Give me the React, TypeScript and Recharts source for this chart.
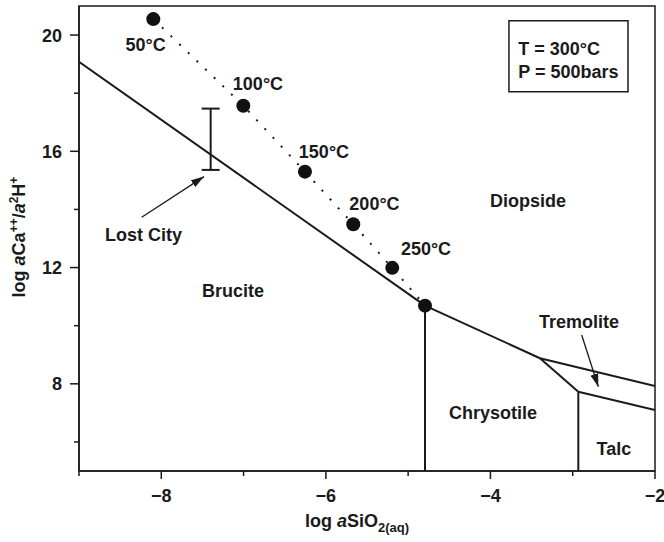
import { ComposedChart, Line, Scatter, XAxis, YAxis, ReferenceArea, ErrorBar } from 'recharts';

// phase boundaries: x = log aSiO2(aq), y = log aCa++/a2H+
const bruciteDiopside = [{ x: -9, y: 19.08 }, { x: -4.795, y: 10.69 }];
const chrysotileDiopside = [{ x: -4.795, y: 10.69 }, { x: -3.398, y: 8.88 }];
const tremoliteDiopside = [{ x: -3.398, y: 8.88 }, { x: -2, y: 7.92 }];
const chrysotileTremolite = [{ x: -3.398, y: 8.88 }, { x: -2.932, y: 7.73 }];
const talcTremolite = [{ x: -2.932, y: 7.73 }, { x: -2, y: 7.1 }];
const bruciteChrysotile = [{ x: -4.795, y: 10.69 }, { x: -4.795, y: 5 }];
const chrysotileTalc = [{ x: -2.932, y: 7.73 }, { x: -2.932, y: 5 }];

// fluid composition vs temperature
const temps = ['50°C', '100°C', '150°C', '200°C', '250°C', '300°C'];
const tempSiO2 = [-8.097, -7.003, -6.254, -5.667, -5.193, -4.795];
const tempCa = [20.55, 17.57, 15.3, 13.49, 11.99, 10.69];

// Lost City range
const lostCitySiO2 = -7.4;
const lostCityCa = [15.36, 17.47];

// annotation anchors
const tempLabelSiO2 = [-8.19, -6.825, -6.023, -5.409, -4.783];
const tempLabelCa = [19.68, 18.34, 15.99, 14.21, 12.66];
const phaseNames = ['Brucite', 'Diopside', 'Chrysotile', 'Talc', 'Tremolite', 'Lost City'];
const phaseSiO2 = [-7.129, -3.544, -3.969, -2.499, -2.924, -8.216];
const phaseCa = [11.2, 14.32, 7.0, 5.78, 10.14, 13.14];
const lostCityArrow = [{ x: -8.238, y: 13.73 }, { x: -7.481, y: 15.13 }];
const tremoliteArrow = [{ x: -2.891, y: 9.68 }, { x: -2.689, y: 7.9 }];
const boxSiO2 = [-3.775, -2.328];
const boxCa = [18.05, 20.49];
const boxLines = ['T = 300°C', 'P = 500bars'];
const boxLineCa = [19.54, 18.74];

const xTicks = [-9, -8, -7, -6, -5, -4, -3, -2];
const yTicks = [6, 8, 10, 12, 14, 16, 18, 20];

const FONT = '"Liberation Sans", Arial, Helvetica, sans-serif';
const INK = '#1a1a1a';

const tempPoints = temps.map((t, i) => ({ x: tempSiO2[i], y: tempCa[i], t }));
const tempLabels = tempLabelSiO2.map((x, i) => ({ x, y: tempLabelCa[i], label: temps[i] }));
const phaseLabels = phaseNames.map((label, i) => ({ x: phaseSiO2[i], y: phaseCa[i], label }));
const boxLabels = boxLines.map((label, i) => ({ x: boxSiO2[0] + 0.113, y: boxLineCa[i], label }));
const lostCityBar = [{
  x: lostCitySiO2,
  y: (lostCityCa[0] + lostCityCa[1]) / 2,
  err: (lostCityCa[1] - lostCityCa[0]) / 2,
}];

const fmt = (v: number) => (v < 0 ? `\u2212${-v}` : `${v}`);

function XTick({ x, y, payload }: any) {
  const major = payload.value % 2 === 0;
  return (
    <g>
      <line x1={x} x2={x} y1={y} y2={y + (major ? 8 : 5)} stroke={INK} strokeWidth={1.5} />
      {major && (
        <text x={x} y={y + 31} textAnchor="middle" fontFamily={FONT} fontWeight="bold" fontSize={18} fill={INK}>
          {fmt(payload.value)}
        </text>
      )}
    </g>
  );
}

function YTick({ x, y, payload }: any) {
  const major = payload.value % 4 === 0;
  return (
    <g>
      <line x1={x - (major ? 9 : 5)} x2={x} y1={y} y2={y} stroke={INK} strokeWidth={1.5} />
      {major && (
        <text x={x - 17} y={y + 6.5} textAnchor="end" fontFamily={FONT} fontWeight="bold" fontSize={18} fill={INK}>
          {payload.value}
        </text>
      )}
    </g>
  );
}

const textShape = (anchor: 'middle' | 'start') => (p: any) => {
  const label = p.payload?.label ?? p.label;
  return (
    <text x={p.cx} y={p.cy} dy={6.5} textAnchor={anchor} fontFamily={FONT} fontWeight="bold" fontSize={18} fill={INK}>
      {label}
    </text>
  );
};

const XLabel = ({ viewBox }: any) => (
  <text x={viewBox.x + 226} y={viewBox.y + 56} fontFamily={FONT} fontWeight="bold" fontSize={18} fill={INK}>
    log <tspan fontStyle="italic">a</tspan>SiO
    <tspan fontSize={13} dy={5}>2(aq)</tspan>
  </text>
);

const YLabel = ({ viewBox }: any) => {
  const cx = viewBox.x + 25;
  const cy = 237;
  return (
    <text x={cx} y={cy} transform={`rotate(-90, ${cx}, ${cy})`} textAnchor="middle" fontFamily={FONT} fontWeight="bold" fontSize={18} fill={INK}>
      log <tspan fontStyle="italic">a</tspan>Ca
      <tspan fontSize={12} dy={-7}>++</tspan>
      <tspan dy={7}>/</tspan>
      <tspan fontStyle="italic">a</tspan>
      <tspan fontSize={12} dy={-7}>2</tspan>
      <tspan dy={7}>H</tspan>
      <tspan fontSize={12} dy={-7}>+</tspan>
    </text>
  );
};

const boundary = (data: { x: number; y: number }[], key: string) => (
  <Line
    key={key}
    data={data}
    dataKey="y"
    stroke={INK}
    strokeWidth={2}
    dot={false}
    activeDot={false}
    isAnimationActive={false}
    legendType="none"
  />
);

export default function App() {
  return (
    <div style={{ position: 'absolute', left: 0, top: 0, width: 664, height: 542, background: '#fff' }}>
      <ComposedChart width={664} height={542} margin={{ top: 6, right: 9, bottom: 0, left: 0 }}>
        <defs>
          <marker
            id="arrowHead"
            viewBox="0 0 13 8"
            refX="13"
            refY="4"
            markerWidth="13"
            markerHeight="8"
            markerUnits="userSpaceOnUse"
            orient="auto"
          >
            <path d="M0,0 L13,4 L0,8 z" fill={INK} />
          </marker>
        </defs>
        <XAxis
          dataKey="x"
          type="number"
          domain={[-9, -2]}
          ticks={xTicks}
          interval={0}
          allowDataOverflow
          height={71}
          axisLine={{ stroke: INK, strokeWidth: 1.5 }}
          tickLine={false}
          tickSize={0}
          tickMargin={0}
          tick={<XTick />}
          label={{ content: <XLabel /> } as any}
        />
        <YAxis
          dataKey="y"
          type="number"
          domain={[5, 21]}
          ticks={yTicks}
          interval={0}
          allowDataOverflow
          width={79}
          axisLine={{ stroke: INK, strokeWidth: 1.5 }}
          tickLine={false}
          tickSize={0}
          tickMargin={0}
          tick={<YTick />}
          label={{ content: <YLabel /> } as any}
        />
        <ReferenceArea x1={-9} x2={-2} y1={5} y2={21} fill="none" stroke={INK} strokeWidth={1.5} />
        <ReferenceArea x1={boxSiO2[0]} x2={boxSiO2[1]} y1={boxCa[0]} y2={boxCa[1]} fill="#fff" fillOpacity={1} stroke={INK} strokeWidth={1.5} />

        {boundary(bruciteDiopside, 'bd')}
        {boundary(chrysotileDiopside, 'cd')}
        {boundary(tremoliteDiopside, 'td')}
        {boundary(chrysotileTremolite, 'ct')}
        {boundary(talcTremolite, 'tt')}
        {boundary(bruciteChrysotile, 'bc')}
        {boundary(chrysotileTalc, 'ctl')}

        <Line
          data={lostCityArrow}
          dataKey="y"
          stroke={INK}
          strokeWidth={1.3}
          dot={false}
          activeDot={false}
          markerEnd="url(#arrowHead)"
          isAnimationActive={false}
        />
        <Line
          data={tremoliteArrow}
          dataKey="y"
          stroke={INK}
          strokeWidth={1.3}
          dot={false}
          activeDot={false}
          markerEnd="url(#arrowHead)"
          isAnimationActive={false}
        />

        <Scatter data={lostCityBar} shape={() => <g />} isAnimationActive={false}>
          <ErrorBar dataKey="err" direction="y" width={9} stroke={INK} strokeWidth={2} />
        </Scatter>

        <Line
          data={tempPoints}
          dataKey="y"
          stroke={INK}
          strokeWidth={2}
          strokeDasharray="2 10"
          dot={{ r: 7, fill: '#111', stroke: 'none' }}
          activeDot={false}
          isAnimationActive={false}
        />

        <Scatter data={tempLabels} shape={textShape('middle')} isAnimationActive={false} />
        <Scatter data={phaseLabels} shape={textShape('middle')} isAnimationActive={false} />
        <Scatter data={boxLabels} shape={textShape('start')} isAnimationActive={false} />
      </ComposedChart>
    </div>
  );
}
